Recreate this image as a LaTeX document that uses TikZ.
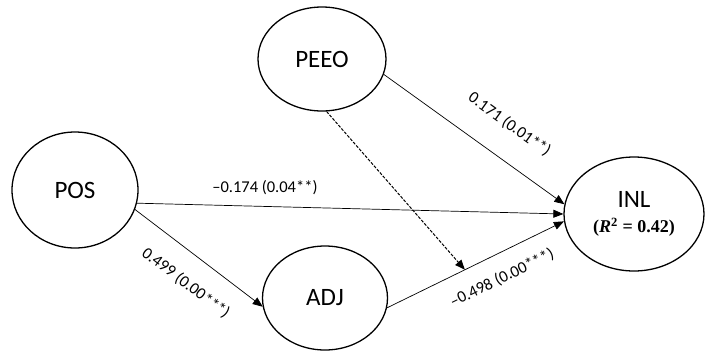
\documentclass[tikz,border=0pt]{standalone}
\usepackage{fontspec}
\setmainfont{Carlito}
\newfontfamily\rsqfont{Liberation Serif}
\usetikzlibrary{shapes.geometric,arrows.meta}

\begin{document}
\begin{tikzpicture}[x=1pt, y=-1pt, >={Triangle[length=10pt,width=8pt]},
    latent/.style={draw, ellipse, line width=1.3pt, inner sep=0pt, font=\fontsize{25}{28}\selectfont},
    effect/.style={->, line width=0.7pt},
    coef/.style={font=\fontsize{16.5}{18}\selectfont}]
    \useasboundingbox (0,0) rectangle (705,360);

    \node[latent, minimum width=128pt, minimum height=104pt] (peeo) at (322,59) {PEEO};
    \node[latent, minimum width=126pt, minimum height=116pt] (pos) at (75,190) {POS};
    \node[latent, minimum width=125pt, minimum height=104pt] (adj) at (325,298) {ADJ};
    \node[latent, minimum width=140pt, minimum height=114pt, align=center] (inl) at (634,214)
        {INL\\[-3pt]{\rsqfont\bfseries\fontsize{18}{20}\selectfont(\textit{R}\textsuperscript{2} = 0.42)}};

    % direct paths
    \draw[effect] (pos.-12) -- (inl.180)
        node[coef, pos=0.3, above=8pt] {–0.174 (0.04**)};
    \draw[effect] (pos.-18) -- (adj.188)
        node[coef, pos=0.53, sloped, below=17pt] {0.499 (0.00***)};
    \draw[effect] (peeo.-14) -- (inl.172)
        node[coef, pos=0.59, sloped, above=22pt] {0.171 (0.01**)};
    \draw[effect] (adj.-9) -- (inl.186) coordinate[pos=0.44] (mod)
        node[coef, pos=0.59, sloped, below=13pt] {–0.498 (0.00***)};

    % moderation
    \draw[effect, line width=1pt, dash pattern=on 3pt off 1.5pt] (peeo.-85) -- (mod);
\end{tikzpicture}
\end{document}
